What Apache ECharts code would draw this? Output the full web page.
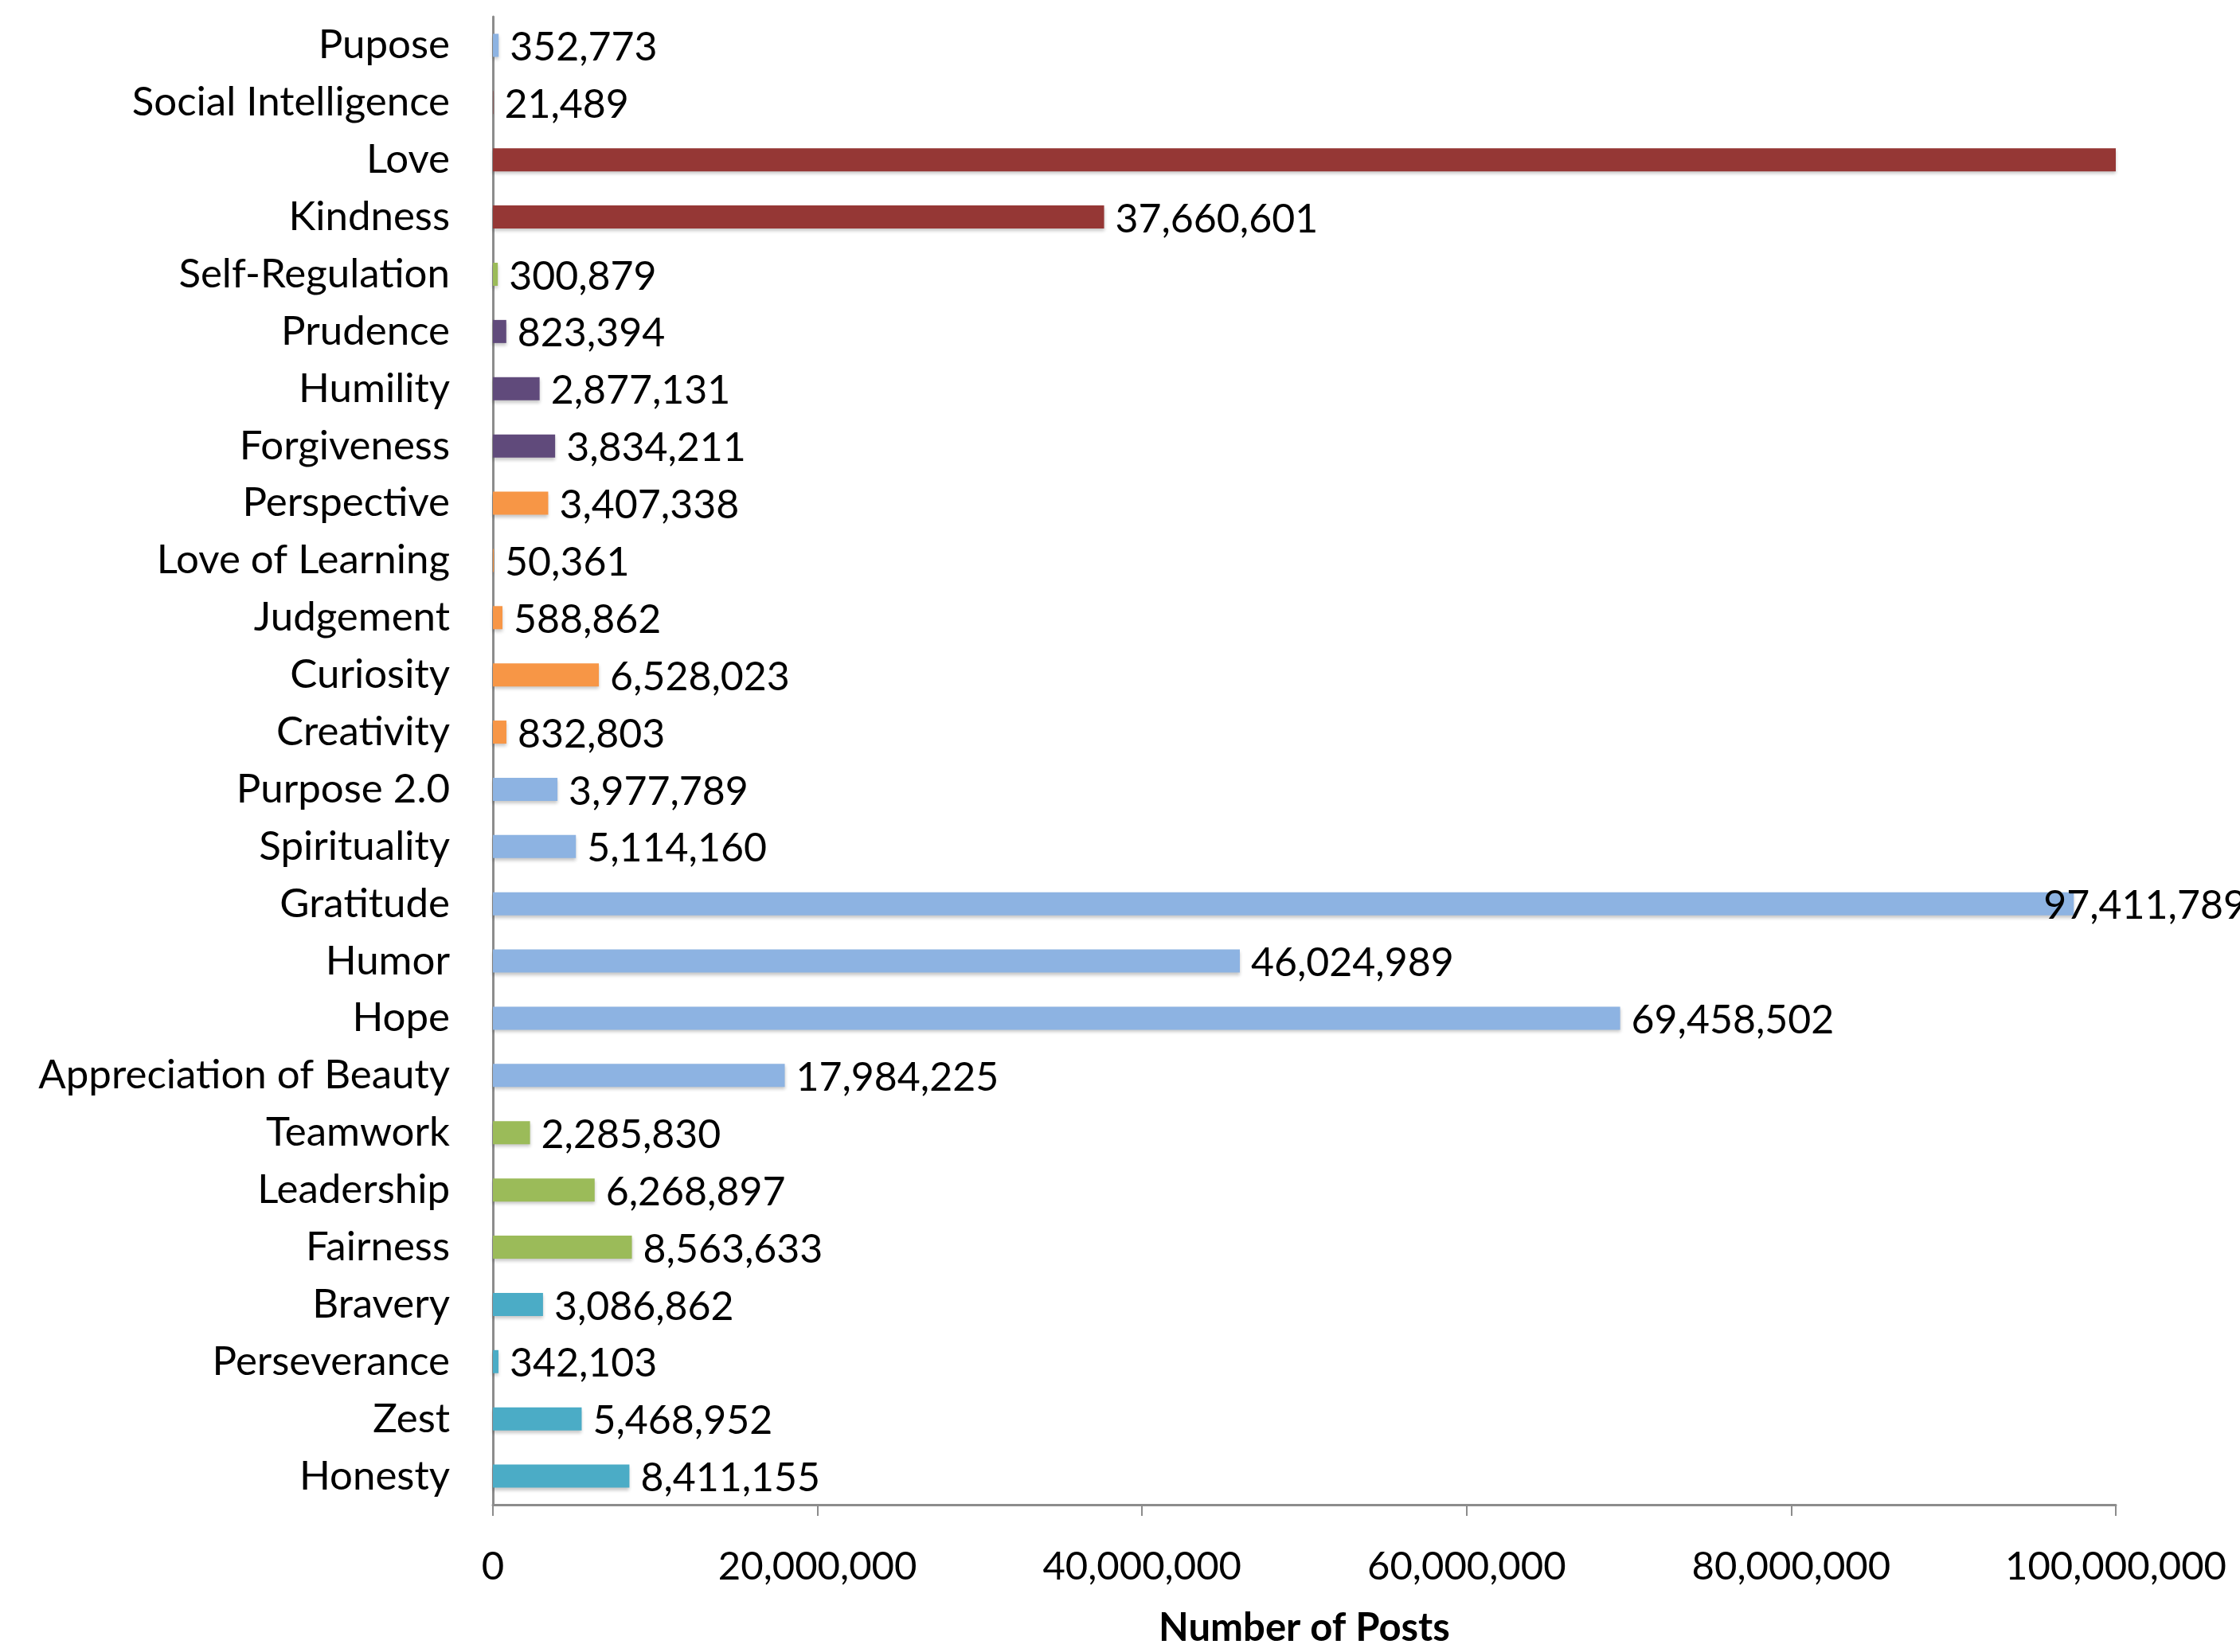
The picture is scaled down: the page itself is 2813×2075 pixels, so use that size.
<!DOCTYPE html>
<html>
<head>
<meta charset="utf-8">
<title>Number of Posts</title>
<script src="https://cdn.jsdelivr.net/npm/echarts@6/dist/echarts.min.js"></script>
<style>
  html, body { margin: 0; padding: 0; background: #fff; }
  #main { width: 2813px; height: 2075px; }
</style>
</head>
<body>
<div id="main"></div>
<script>
/* global echarts */
// categories, top to bottom as in the picture
var categories = ['Pupose', 'Social Intelligence', 'Love', 'Kindness', 'Self-Regulation', 'Prudence',
    'Humility', 'Forgiveness', 'Perspective', 'Love of Learning', 'Judgement', 'Curiosity',
    'Creativity', 'Purpose 2.0', 'Spirituality', 'Gratitude', 'Humor', 'Hope',
    'Appreciation of Beauty', 'Teamwork', 'Leadership', 'Fairness', 'Bravery', 'Perseverance',
    'Zest', 'Honesty'];
// Love runs off the end of the axis and has no label, so only the visible 100M is known
var posts = [352773, 21489, 100000000, 37660601, 300879, 823394,
    2877131, 3834211, 3407338, 50361, 588862, 6528023,
    832803, 3977789, 5114160, 97411789, 46024989, 69458502,
    17984225, 2285830, 6268897, 8563633, 3086862, 342103,
    5468952, 8411155];
var groups = ['blue', 'red', 'red', 'red', 'green', 'purple',
    'purple', 'purple', 'orange', 'orange', 'orange', 'orange',
    'orange', 'blue', 'blue', 'blue', 'blue', 'blue',
    'blue', 'green', 'green', 'green', 'teal', 'teal',
    'teal', 'teal'];
var hiddenLabels = ['Love'];
var xTicks = [0, 20000000, 40000000, 60000000, 80000000, 100000000];

var palette = {
    blue: '#8db3e2',
    red: '#953735',
    green: '#9bbb59',
    purple: '#604a7b',
    orange: '#f79646',
    teal: '#4bacc6'
};

var FONT = 'Lato';

function fmt(v) {
    return Number(v).toLocaleString('en-US');
}

var barData = [];
for (var i = 0; i < categories.length; i++) {
    var item = {
        value: posts[i],
        itemStyle: {color: palette[groups[i]]}
    };
    if (hiddenLabels.indexOf(categories[i]) >= 0) {
        item.label = {show: false};
    }
    // excel pulled the gratitude label back over the end of its bar
    if (categories[i] === 'Gratitude') {
        item.label = {offset: [-52, 3]};
    }
    barData.push(item);
}

var myChart = echarts.init(document.getElementById('main'));

var option = {
    backgroundColor: '#fff',
    animation: false,
    grid: {
        left: 619,
        right: 156,
        top: 21,
        bottom: 179,
        containLabel: false
    },
    xAxis: {
        type: 'value',
        min: xTicks[0],
        max: xTicks[xTicks.length - 1],
        interval: xTicks[1] - xTicks[0],
        name: 'Number of Posts',
        nameLocation: 'middle',
        nameGap: 131,
        nameTextStyle: {
            fontFamily: FONT,
            fontSize: 49,
            fontWeight: 'bold',
            color: '#000'
        },
        axisLine: {show: true, lineStyle: {color: '#8c8c8c', width: 3}},
        axisTick: {show: true, length: 14, lineStyle: {color: '#8c8c8c', width: 2}},
        splitLine: {show: false},
        axisLabel: {
            margin: 54,
            fontFamily: FONT,
            fontSize: 49,
            color: '#000',
            formatter: fmt
        }
    },
    yAxis: {
        type: 'category',
        data: categories,
        inverse: true,
        axisLine: {show: true, lineStyle: {color: '#8c8c8c', width: 3}},
        axisTick: {show: false},
        axisLabel: {
            margin: 54,
            fontFamily: FONT,
            fontSize: 51,
            color: '#000',
            interval: 0,
            padding: [12, 0, 0, 0]
        }
    },
    series: [
        {
            type: 'bar',
            data: barData,
            barWidth: 29,
            itemStyle: {
                shadowColor: 'rgba(0, 0, 0, 0.22)',
                shadowBlur: 4,
                shadowOffsetY: 3
            },
            label: {
                show: true,
                position: 'right',
                distance: 14,
                offset: [0, 3],
                fontFamily: FONT,
                fontSize: 50,
                color: '#000',
                formatter: function (p) {
                    return fmt(p.value);
                }
            }
        }
    ]
};
myChart.setOption(option);
</script>
</body>
</html>
